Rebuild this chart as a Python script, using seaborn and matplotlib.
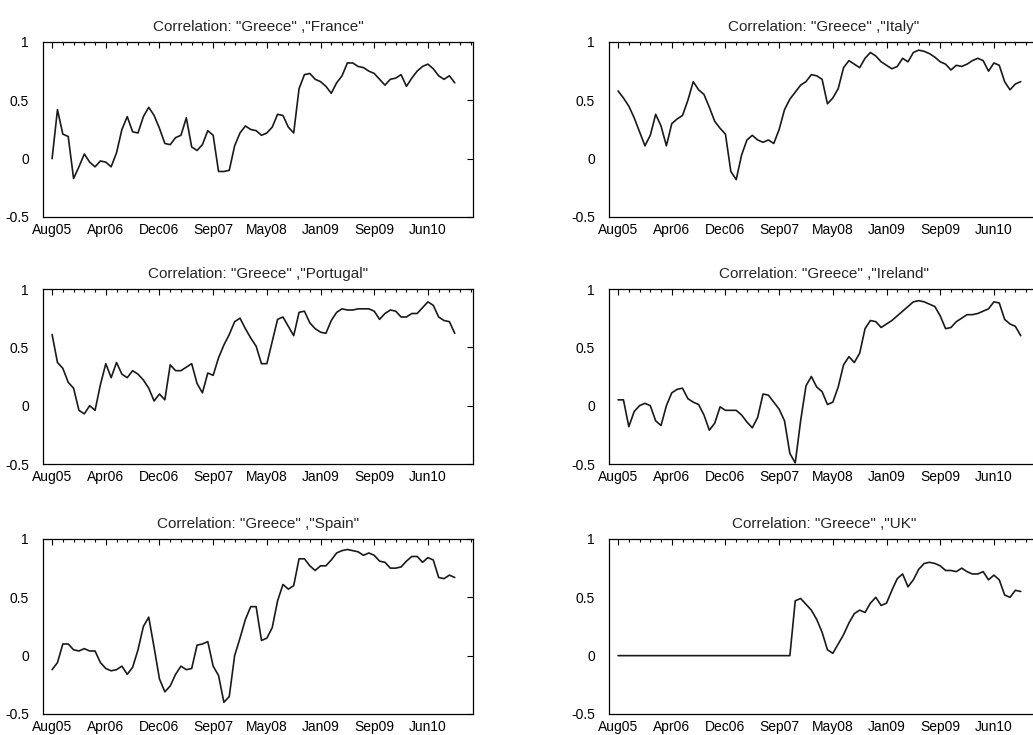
import numpy as np
import pandas as pd
import matplotlib
matplotlib.use("Agg")
import matplotlib.pyplot as plt
from matplotlib.ticker import MultipleLocator
import seaborn as sns

# x axis: sample index, one labelled tick every 10 samples
tick_labels = ["Aug05", "Apr06", "Dec06", "Sep07", "May08", "Jan09", "Sep09", "Jun10"]
tick_step = 10

france = [0.0, 0.42, 0.21, 0.19, -0.17, -0.07, 0.04, -0.03, -0.07, -0.02,
          -0.03, -0.07, 0.05, 0.25, 0.36, 0.23, 0.22, 0.36, 0.44, 0.37,
          0.26, 0.13, 0.12, 0.18, 0.2, 0.35, 0.1, 0.07, 0.12, 0.24,
          0.2, -0.11, -0.11, -0.1, 0.11, 0.22, 0.28, 0.25, 0.24, 0.2,
          0.22, 0.27, 0.38, 0.37, 0.27, 0.22, 0.6, 0.72, 0.73, 0.68,
          0.66, 0.62, 0.56, 0.65, 0.71, 0.82, 0.82, 0.79, 0.78, 0.75,
          0.73, 0.68, 0.63, 0.68, 0.69, 0.72, 0.62, 0.69, 0.75, 0.79,
          0.81, 0.77, 0.71, 0.68, 0.71, 0.65]

italy = [0.58, 0.52, 0.45, 0.35, 0.23, 0.11, 0.2, 0.38, 0.28, 0.11,
         0.3, 0.34, 0.37, 0.5, 0.66, 0.59, 0.55, 0.44, 0.32, 0.26,
         0.21, -0.11, -0.18, 0.03, 0.16, 0.2, 0.16, 0.14, 0.16, 0.13,
         0.25, 0.42, 0.51, 0.57, 0.63, 0.66, 0.72, 0.71, 0.68, 0.47,
         0.52, 0.6, 0.78, 0.84, 0.81, 0.78, 0.86, 0.91, 0.88, 0.83,
         0.8, 0.77, 0.79, 0.86, 0.83, 0.91, 0.93, 0.92, 0.9, 0.87,
         0.83, 0.81, 0.76, 0.8, 0.79, 0.81, 0.84, 0.86, 0.84, 0.75,
         0.82, 0.8, 0.66, 0.59, 0.64, 0.66]

portugal = [0.61, 0.37, 0.32, 0.2, 0.15, -0.04, -0.07, 0.0, -0.04, 0.18,
            0.36, 0.24, 0.37, 0.27, 0.24, 0.3, 0.27, 0.22, 0.15, 0.04,
            0.1, 0.05, 0.35, 0.3, 0.3, 0.33, 0.36, 0.19, 0.11, 0.28,
            0.26, 0.41, 0.52, 0.61, 0.72, 0.75, 0.66, 0.58, 0.51, 0.36,
            0.36, 0.55, 0.74, 0.76, 0.68, 0.6, 0.8, 0.81, 0.71, 0.66,
            0.63, 0.62, 0.73, 0.8, 0.83, 0.82, 0.82, 0.83, 0.83, 0.83,
            0.81, 0.74, 0.79, 0.82, 0.81, 0.76, 0.76, 0.79, 0.79, 0.84,
            0.89, 0.86, 0.76, 0.73, 0.72, 0.62]

ireland = [0.05, 0.05, -0.18, -0.05, 0.0, 0.02, 0.0, -0.13, -0.17, 0.0,
           0.11, 0.14, 0.15, 0.06, 0.03, 0.01, -0.08, -0.21, -0.15, -0.01,
           -0.04, -0.04, -0.04, -0.08, -0.14, -0.19, -0.1, 0.1, 0.09, 0.03,
           -0.03, -0.13, -0.41, -0.49, -0.13, 0.17, 0.25, 0.16, 0.12, 0.01,
           0.03, 0.16, 0.35, 0.42, 0.37, 0.45, 0.66, 0.73, 0.72, 0.67,
           0.7, 0.73, 0.77, 0.81, 0.85, 0.89, 0.9, 0.89, 0.87, 0.85,
           0.77, 0.66, 0.67, 0.72, 0.75, 0.78, 0.78, 0.79, 0.81, 0.83,
           0.89, 0.88, 0.74, 0.7, 0.68, 0.6]

spain = [-0.12, -0.06, 0.1, 0.1, 0.05, 0.04, 0.06, 0.04, 0.04, -0.06,
         -0.11, -0.13, -0.12, -0.09, -0.16, -0.1, 0.05, 0.25, 0.33, 0.07,
         -0.2, -0.31, -0.26, -0.16, -0.09, -0.12, -0.11, 0.09, 0.1, 0.12,
         -0.09, -0.17, -0.4, -0.35, 0.0, 0.15, 0.31, 0.42, 0.42, 0.13,
         0.15, 0.24, 0.47, 0.61, 0.57, 0.6, 0.83, 0.83, 0.77, 0.73,
         0.77, 0.77, 0.82, 0.88, 0.9, 0.91, 0.9, 0.89, 0.86, 0.88,
         0.86, 0.81, 0.8, 0.75, 0.75, 0.76, 0.81, 0.85, 0.85, 0.8,
         0.84, 0.82, 0.67, 0.66, 0.69, 0.67]

uk = [0.0, 0.0, 0.0, 0.0, 0.0, 0.0, 0.0, 0.0, 0.0, 0.0,
      0.0, 0.0, 0.0, 0.0, 0.0, 0.0, 0.0, 0.0, 0.0, 0.0,
      0.0, 0.0, 0.0, 0.0, 0.0, 0.0, 0.0, 0.0, 0.0, 0.0,
      0.0, 0.0, 0.0, 0.47, 0.49, 0.44, 0.39, 0.31, 0.2, 0.05,
      0.02, 0.1, 0.18, 0.28, 0.36, 0.39, 0.37, 0.45, 0.5, 0.43,
      0.45, 0.56, 0.66, 0.7, 0.59, 0.65, 0.74, 0.79, 0.8, 0.79,
      0.77, 0.73, 0.73, 0.72, 0.75, 0.72, 0.7, 0.7, 0.72, 0.65,
      0.69, 0.65, 0.52, 0.5, 0.56, 0.55]

countries = ["France", "Italy", "Portugal", "Ireland", "Spain", "UK"]
values = [france, italy, portugal, ireland, spain, uk]

sns.set_style("white")
plt.rcParams["font.family"] = ["Liberation Sans", "DejaVu Sans"]
plt.rcParams["axes.edgecolor"] = "black"
plt.rcParams["axes.linewidth"] = 0.9

fig = plt.figure(figsize=(10.33, 7.35), dpi=100)

# axes boxes in figure fractions (right column runs past the edge, as in the source)
col_left = [0.0416, 0.5895]
row_bottom = [0.7048, 0.3687, 0.0286]
ax_w, ax_h = 0.4163, 0.2381

for i, (name, vals) in enumerate(zip(countries, values)):
    row, col = divmod(i, 2)
    ax = fig.add_axes([col_left[col], row_bottom[row], ax_w, ax_h])
    df = pd.DataFrame({"t": np.arange(len(vals)), "corr": vals})
    sns.lineplot(data=df, x="t", y="corr", ax=ax, color="#1a1a1a", linewidth=1.2)

    ax.set_xlim(-1.7, 78.4)
    ax.set_ylim(-0.5, 1)
    ax.set_xticks(np.arange(len(tick_labels)) * tick_step)
    ax.set_xticklabels(tick_labels)
    ax.xaxis.set_minor_locator(MultipleLocator(tick_step / 5))
    ax.set_yticks([-0.5, 0, 0.5, 1])
    ax.set_yticklabels(["-0.5", "0", "0.5", "1"])
    ax.tick_params(which="both", direction="in", top=True, right=True,
                   labelsize=10, colors="black", width=0.8)
    ax.tick_params(which="major", length=4)
    ax.tick_params(axis="x", which="major", pad=4)
    ax.tick_params(axis="y", which="major", pad=10)
    ax.tick_params(which="minor", length=2)
    ax.set_xlabel("")
    ax.set_ylabel("")
    ax.set_title(f'Correlation: "Greece" ,"{name}"', fontsize=11, pad=8)
    for s in ax.spines.values():
        s.set_visible(True)

fig.savefig("out.png", dpi=100)
